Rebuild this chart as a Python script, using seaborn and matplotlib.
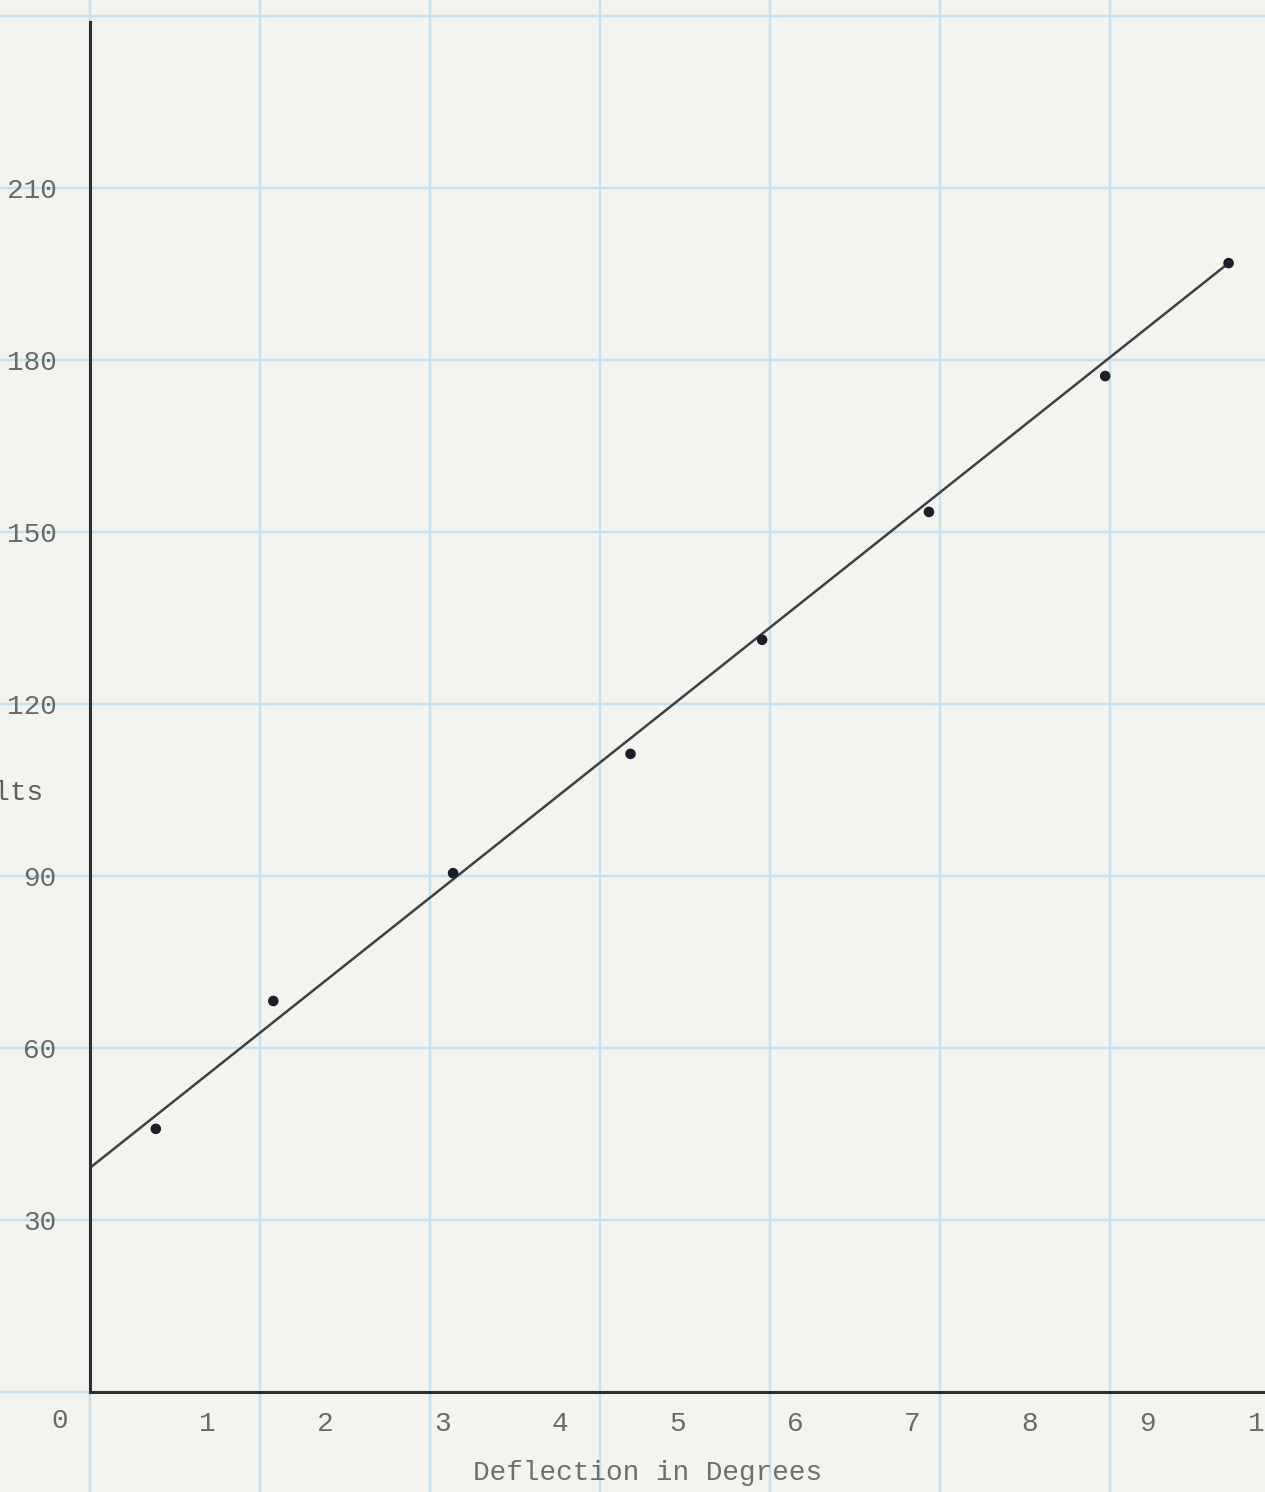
import numpy as np
import pandas as pd
import matplotlib
matplotlib.use("Agg")
import matplotlib.pyplot as plt
import seaborn as sns

# ==========================================
# DATA
# ==========================================
deflection_deg = [0.56, 1.56, 3.09, 4.60, 5.72, 7.14, 8.64, 9.69]
volts = [45.9, 68.2, 90.5, 111.3, 131.2, 153.5, 177.2, 196.9]

# hand-drawn straight line through the points
fit_deg = [0.0, 9.69]
fit_volts = [39.1, 196.9]

y_ticks = [30, 60, 90, 120, 150, 180, 210]
x_ticks = [1, 2, 3, 4, 5, 6, 7, 8, 9, 10]

# ==========================================
# STYLE
# ==========================================
PAPER = '#f3f3ef'
GRID_BLUE = '#c4e1ee'
INK = '#2b3036'
TYPE_GRAY = '#6a6a6a'
FONT = 'Liberation Mono'

W, H = 1265, 1492
PX_DEG = 117.5          # pixels per degree
PX_VOLT = 172 / 30      # pixels per volt
X0, Y0 = 90, 1392       # origin in pixels
TOP = 22

sns.set_theme(style="white")
plt.rcParams['font.family'] = [FONT, 'DejaVu Sans Mono']

df = pd.DataFrame({'deg': deflection_deg, 'volts': volts})
fit = pd.DataFrame({'deg': fit_deg, 'volts': fit_volts})

fig = plt.figure(figsize=(W / 100, H / 100), dpi=100, facecolor=PAPER)

# graph paper behind everything, same scale as the plot
bg = fig.add_axes([0, 0, 1, 1], zorder=0)
bg.set_facecolor(PAPER)
bg.set_xlim(-X0 / PX_DEG, (W - X0) / PX_DEG)
bg.set_ylim(-(H - Y0) / PX_VOLT, Y0 / PX_VOLT)
major_x = 170 / PX_DEG
for k in range(-1, 9):
    bg.axvline(k * major_x, color=GRID_BLUE, lw=1.7, zorder=0)
for v in range(-30, 271, 30):
    bg.axhline(v, color=GRID_BLUE, lw=1.7, zorder=0)
bg.axis('off')

ax = fig.add_axes([X0 / W, (H - Y0) / H, (W - X0) / W, (Y0 - TOP) / H], zorder=1)
ax.set_facecolor('none')
ax.set_xlim(0, (W - X0) / PX_DEG)
ax.set_ylim(0, (Y0 - TOP) / PX_VOLT)

sns.lineplot(data=fit, x='deg', y='volts', ax=ax, color='#3f4044', lw=1.8)
sns.scatterplot(data=df, x='deg', y='volts', ax=ax, color='#1c1f2b', s=58,
                edgecolor='none', zorder=3)

for side in ['top', 'right']:
    ax.spines[side].set_visible(False)
for side in ['left', 'bottom']:
    ax.spines[side].set_color(INK)
    ax.spines[side].set_linewidth(2.2)

ax.set_yticks(y_ticks)
ax.set_yticklabels([str(v) for v in y_ticks])
ax.set_xticks(x_ticks)
ax.set_xticklabels([str(v) for v in x_ticks])
ax.tick_params(axis='y', length=0, pad=24, labelsize=20, labelcolor=TYPE_GRAY)
ax.tick_params(axis='x', length=0, pad=14, labelsize=20, labelcolor=TYPE_GRAY)
ax.set_xlabel('')
ax.set_ylabel('')

fig.text(60 / W, 1 - 1421 / H, '0', ha='center', va='center',
         fontsize=20, color=TYPE_GRAY)
fig.text(44 / W, 1 - 793 / H, 'Volts', ha='right', va='center',
         fontsize=20, color='#5e5e5e')
fig.text(648 / W, 1 - 1473 / H, 'Deflection in Degrees', ha='center',
         va='center', fontsize=20, color='#6e6e6e')

fig.savefig('out.png', dpi=100, facecolor=PAPER)
